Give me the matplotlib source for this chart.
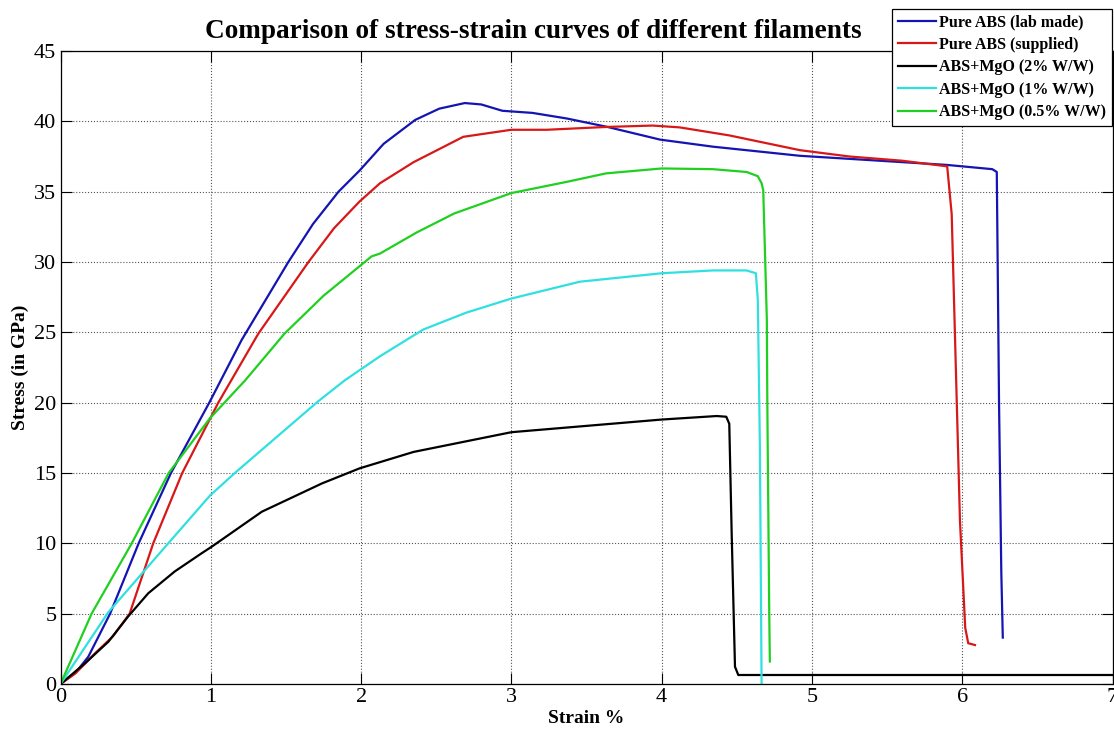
import matplotlib
matplotlib.use('Agg')
import matplotlib.pyplot as plt

plt.rcParams['font.family'] = ['Liberation Serif', 'DejaVu Serif']

# stress-strain curves (strain %, stress)
lab_x = [0, 0.1, 0.185, 0.33, 0.52, 0.735, 0.99, 1.205, 1.516, 1.68, 1.85, 1.99, 2.15, 2.36,
         2.52, 2.69, 2.8, 2.94, 3.14, 3.37, 3.64, 3.99, 4.34, 4.92, 5.45, 5.9, 6.2, 6.23,
         6.245, 6.26, 6.27]
lab_y = [0, 0.8, 1.94, 5.0, 10.0, 15.0, 20.0, 24.45, 30.0, 32.7, 35.0, 36.5, 38.4, 40.1,
         40.9, 41.3, 41.2, 40.75, 40.6, 40.2, 39.6, 38.7, 38.2, 37.55, 37.2, 36.9, 36.6, 36.4,
         20.0, 8.0, 3.3]

sup_x = [0, 0.1, 0.23, 0.35, 0.46, 0.617, 0.81, 1.05, 1.316, 1.65, 1.82, 1.99, 2.126, 2.35,
         2.68, 3.0, 3.235, 3.63, 3.94, 4.12, 4.45, 4.92, 5.25, 5.6, 5.9, 5.93, 5.985, 6.02,
         6.04, 6.085]
sup_y = [0, 0.76, 2.18, 3.4, 5.0, 10.0, 15.0, 20.0, 24.9, 30.0, 32.4, 34.3, 35.6, 37.1,
         38.9, 39.4, 39.4, 39.6, 39.7, 39.57, 39.0, 37.95, 37.5, 37.2, 36.8, 33.4, 11.6, 4.0,
         2.9, 2.77]

mgo2_x = [0, 0.163, 0.318, 0.45, 0.584, 0.76, 0.94, 1.006, 1.34, 1.74, 1.99, 2.35, 3.0, 4.0,
          4.366, 4.43, 4.45, 4.466, 4.488, 4.51, 7.0]
mgo2_y = [0, 1.47, 3.0, 4.8, 6.45, 8.0, 9.3, 9.76, 12.25, 14.26, 15.33, 16.5, 17.9, 18.8,
          19.05, 19.0, 18.5, 10.7, 1.23, 0.64, 0.64]

mgo1_x = [0, 0.318, 0.717, 0.995, 1.16, 1.715, 1.893, 2.126, 2.414, 2.7, 3.0, 3.456, 4.0,
          4.34, 4.565, 4.627, 4.64, 4.654, 4.665]
mgo1_y = [0, 5.1, 10.0, 13.4, 15.0, 20.1, 21.6, 23.3, 25.2, 26.4, 27.4, 28.6, 29.2,
          29.4, 29.4, 29.2, 27.3, 16.6, 0.0]

mgo05_x = [0, 0.207, 0.474, 0.72, 0.995, 1.23, 1.49, 1.75, 1.99, 2.07, 2.126, 2.37, 2.62,
           3.0, 3.37, 3.63, 4.0, 4.34, 4.565, 4.64, 4.665, 4.676, 4.70, 4.703, 4.716, 4.72]
mgo05_y = [0, 5.0, 10.0, 15.0, 18.9, 21.6, 24.9, 27.6, 29.7, 30.4, 30.6, 32.1, 33.45,
           34.9, 35.7, 36.3, 36.65, 36.6, 36.4, 36.1, 35.6, 35.1, 25.9, 20.2, 5.0, 1.6]

labels = ['Pure ABS (lab made)', 'Pure ABS (supplied)', 'ABS+MgO (2% W/W)',
          'ABS+MgO (1% W/W)', 'ABS+MgO (0.5% W/W)']
colors = ['#1414b4', '#d81818', '#000000', '#30e0e0', '#20d020']

fig = plt.figure(figsize=(11.14, 7.31), dpi=100)
ax = fig.add_axes([60.5 / 1114, 47 / 731, 1052 / 1114, 633 / 731])

series = [(lab_x, lab_y), (sup_x, sup_y), (mgo2_x, mgo2_y), (mgo1_x, mgo1_y), (mgo05_x, mgo05_y)]
for (xs, ys), lab, c in zip(series, labels, colors):
    ax.plot(xs, ys, color=c, lw=1.6, label=lab)

ax.set_xlim(0, 7)
ax.set_ylim(0, 45)
ax.set_xticks(range(0, 8))
ax.set_yticks(range(0, 46, 5))
ax.grid(True, linestyle=':', color='#555555', lw=0.8)
ax.tick_params(direction='in', length=8, width=0.8, top=True, right=True,
               labelsize=16, pad=3)
for s in ax.spines.values():
    s.set_linewidth(0.9)

ax.set_xlabel('Strain %', fontsize=14, fontweight='bold', labelpad=2)
ax.set_ylabel('Stress (in GPa)', fontsize=14, fontweight='bold', labelpad=4)
fig.text(533 / 1114, 1 - 31 / 731, 'Comparison of stress-strain curves of different filaments',
         ha='center', va='center', fontsize=19.6, fontweight='bold')

leg = ax.legend(loc='upper right', bbox_to_anchor=(1112 / 1114, 1 - 9 / 731),
                bbox_transform=fig.transFigure, fancybox=False, framealpha=1,
                edgecolor='black', handlelength=2.4, handletextpad=0.2,
                borderpad=0.35, labelspacing=0.4, borderaxespad=0,
                prop={'weight': 'bold', 'size': 11.5})
leg.get_frame().set_linewidth(0.9)

fig.savefig('out.png', dpi=100, facecolor='white')
